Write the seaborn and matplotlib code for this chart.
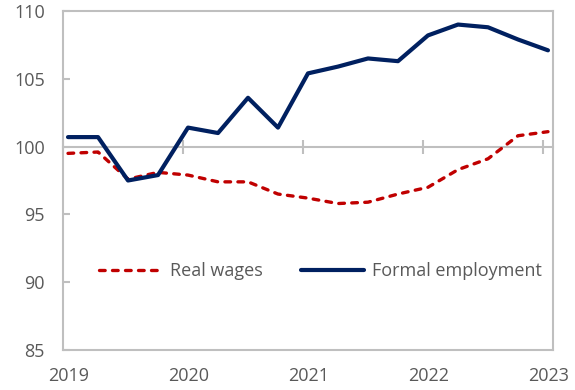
import numpy as np
import pandas as pd
import matplotlib
matplotlib.use("Agg")
import matplotlib.pyplot as plt
import seaborn as sns

# Quarterly index values, 2019Q1 = first observation
quarters = pd.period_range("2019Q1", "2023Q1", freq="Q")
formal_employment = [100.7, 100.7, 97.5, 97.9, 101.4, 101.0, 103.6, 101.4, 105.4,
                     105.9, 106.5, 106.3, 108.2, 109.0, 108.8, 107.9, 107.1]
real_wages = [99.5, 99.6, 97.6, 98.1, 97.9, 97.4, 97.4, 96.5, 96.2,
              95.8, 95.9, 96.5, 97.0, 98.3, 99.1, 100.8, 101.1]
year_labels = ["2019", "2020", "2021", "2022", "2023"]
y_ticks = [85, 90, 95, 100, 105, 110]

# Place each quarterly observation at mid-month of the quarter's first month
x = np.array([q.year + (q.start_time.month - 1 + 0.5) / 12 for q in quarters])
df = pd.DataFrame({"x": x, "Real wages": real_wages, "Formal employment": formal_employment})

GRAY = "#BFBFBF"
TEXT = "#595959"
RED = "#C00000"
NAVY = "#002060"
FS = 13

sns.set_theme(style="white", rc={"axes.edgecolor": GRAY, "axes.linewidth": 1.5})
plt.rcParams["font.family"] = ["Open Sans", "DejaVu Sans"]

fig = plt.figure(figsize=(5.75, 3.9), dpi=100)
ax = fig.add_axes([0.1096, 0.1026, 0.8521, 0.8692])

sns.lineplot(data=df, x="x", y="Real wages", ax=ax, color=RED, lw=2.4,
             label="Real wages")
ax.lines[-1].set_linestyle((0, (1.7, 2.2)))
ax.lines[-1].set_dash_capstyle("round")
sns.lineplot(data=df, x="x", y="Formal employment", ax=ax, color=NAVY, lw=3.0,
             label="Formal employment")
ax.lines[-1].set_solid_capstyle("round")

ax.set_xlim(2019, 2019 + 49 / 12)
ax.set_ylim(85, 110)
ax.set_xlabel("")
ax.set_ylabel("")

for side in ["left", "right", "top", "bottom"]:
    ax.spines[side].set_visible(True)
    ax.spines[side].set_color(GRAY)
    ax.spines[side].set_linewidth(1.5)

ax.set_yticks(y_ticks)
ax.set_yticklabels([str(v) for v in y_ticks])
ax.tick_params(axis="y", direction="in", length=5, width=1.5, color=GRAY,
               labelcolor=TEXT, labelsize=FS, pad=13, left=True)

years = np.arange(2019, 2024)
ax.set_xticks(years + 0.05)
ax.set_xticklabels(year_labels)
ax.tick_params(axis="x", length=0, labelcolor=TEXT, labelsize=FS, pad=12.5)

# Horizontal axis line crossing at 100, with year tick marks
sec = ax.secondary_xaxis((100 - 85) / 25)
for sp in sec.spines.values():
    sp.set_color(GRAY)
    sp.set_linewidth(1.5)
sec.set_xticks(years)
sec.set_xticklabels([])
sec.tick_params(axis="x", direction="inout", length=9.5, width=1.5, color=GRAY,
                labelbottom=False, labeltop=False)

leg = ax.legend(loc="center", bbox_to_anchor=(0.525, 0.233), ncol=2, frameon=False,
                handlelength=3.5, handletextpad=0.45, columnspacing=2.1,
                fontsize=FS)
for t in leg.get_texts():
    t.set_color(TEXT)

fig.savefig("out.png", dpi=100)
